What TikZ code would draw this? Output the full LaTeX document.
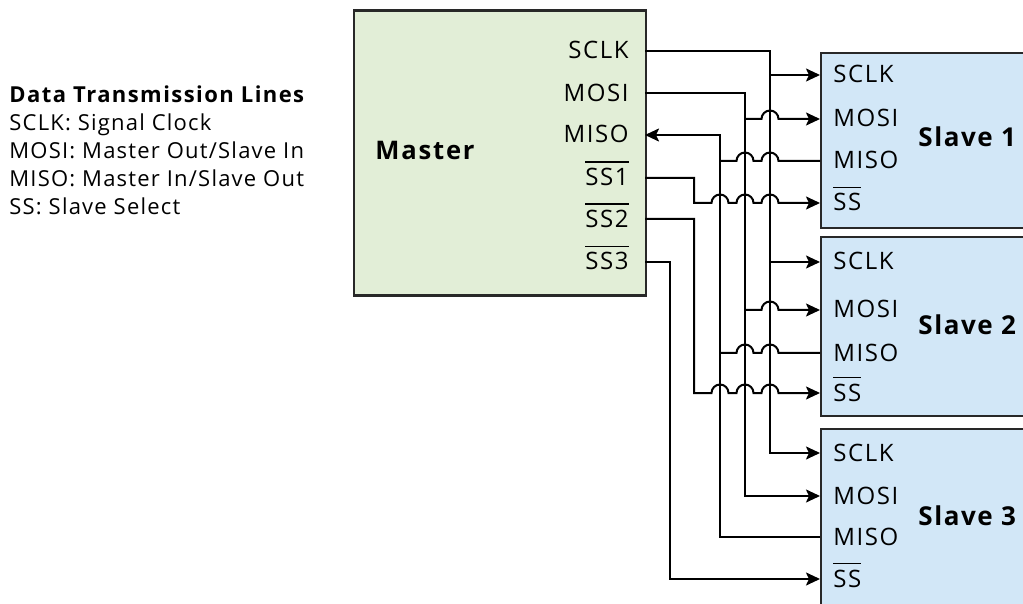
\documentclass[tikz,border=0pt]{standalone}
\usepackage{fontspec}
\setmainfont{Open Sans}
\usetikzlibrary{arrows.meta,calc}
\definecolor{mfill}{RGB}{226,238,215}
\definecolor{sfill}{RGB}{210,231,247}
\definecolor{edgec}{RGB}{40,40,40}
\newcommand\ovl[1]{\leavevmode\vbox{\hrule height 0.9pt\kern 2.6pt\hbox{#1}}}
\begin{document}
\begin{tikzpicture}[x=0.5pt,y=0.5pt,
  wire/.style={line width=1pt,draw=black},
  arr/.style={-{Stealth[length=7pt,width=6.5pt,inset=1.5pt]}},
  mbox/.style={draw=edgec,line width=1.2pt,fill=mfill,anchor=north west,inner sep=0pt},
  sbox/.style={draw=edgec,line width=1.2pt,fill=sfill,anchor=north west,inner sep=0pt},
  pinfont/.style={font=\fontsize{12}{14}\selectfont\addfontfeature{LetterSpace=6.5}},
  pinR/.style={pinfont,anchor=base east,inner sep=0pt},
  pinL/.style={pinfont,anchor=base west,inner sep=0pt},
  mlabel/.style={font=\bfseries\fontsize{12.8}{15}\selectfont\addfontfeature{LetterSpace=7},anchor=base west,inner sep=0pt},
  slabel/.style={font=\bfseries\fontsize{13}{15}\selectfont\addfontfeature{LetterSpace=6},anchor=base west,inner sep=0pt},
  legtitle/.style={font=\bfseries\fontsize{11}{13}\selectfont\addfontfeature{LetterSpace=6.5},anchor=base west,inner sep=0pt},
  legtext/.style={font=\fontsize{11}{13}\selectfont\addfontfeature{LetterSpace=5.5},anchor=base west,inner sep=0pt}]
\path[use as bounding box,clip] (0,0) rectangle (1023,-604);

% legend
\node[legtitle] (lt) at (9,-102.5) {Data Transmission Lines};
\node[legtext] (l1) at (9,-130.5) {SCLK: Signal Clock};
\node[legtext] (l2) at (9,-159) {MOSI: Master Out/Slave In};
\node[legtext] (l3) at (9,-187) {MISO: Master In/Slave Out};
\node[legtext] (l4) at (9,-214.5) {SS: Slave Select};

% boxes
\node[mbox,minimum width=146pt,minimum height=142.5pt] (master) at (353,-9.5) {};
\node[sbox,minimum width=115pt,minimum height=87.5pt] (s1) at (820,-52) {};
\node[sbox,minimum width=115pt,minimum height=89.5pt] (s2) at (820,-236) {};
\node[sbox,minimum width=115pt,minimum height=100pt] (s3) at (820,-428) {};

\node[mlabel] (mlab) at (375,-160) {Master};
\node[slabel] (s1lab) at (918,-147) {Slave 1};
\node[slabel] (s2lab) at (918,-335) {Slave 2};
\node[slabel] (s3lab) at (918,-525) {Slave 3};

% master pins
\coordinate (m-sclk) at (645,-51.5);
\coordinate (m-mosi) at (645,-93);
\coordinate (m-miso) at (645,-135);
\coordinate (m-ss1) at (645,-178);
\coordinate (m-ss2) at (645,-219);
\coordinate (m-ss3) at (645,-262);
\node[pinR] (ml1) at (629,-59) {SCLK};
\node[pinR] (ml2) at (629,-101.5) {MOSI};
\node[pinR] (ml3) at (629,-143) {MISO};
\node[pinR] (ml4) at (629,-185.5) {\ovl{SS1}};
\node[pinR] (ml5) at (629,-227.5) {\ovl{SS2}};
\node[pinR] (ml6) at (629,-270) {\ovl{SS3}};

% slave pins
\foreach \s/\a/\b/\c/\d in {1/75/119/161/203, 2/262/310/353/393, 3/453/496/537/579}{
  \coordinate (s\s-sclk) at (820,-\a);
  \coordinate (s\s-mosi) at (820,-\b);
  \coordinate (s\s-miso) at (820,-\c);
  \coordinate (s\s-ss) at (820,-\d);
  \node[pinL] (s\s l1) at (833,-\a-8) {SCLK};
  \node[pinL] (s\s l2) at (833,-\b-8) {MOSI};
  \node[pinL] (s\s l3) at (833,-\c-8) {MISO};
  \node[pinL] (s\s l4) at (833,-\d-8) {\ovl{SS}};
}

% bus x positions
\coordinate (xs) at (770,0);
\coordinate (xmo) at (745,0);
\coordinate (xmi) at (720,0);
\coordinate (xss) at (694,0);
\coordinate (x3) at (670,0);

\def\r{4.25pt}
% trunks
\draw[wire,arr] (m-sclk) -| (xs |- s3-sclk) -- (s3-sclk);
\draw[wire,arr] (m-mosi) -| (xmo |- s3-mosi) -- (s3-mosi);
\draw[wire,arr] (s3-miso) -| (xmi |- m-miso) -- (m-miso);
\draw[wire,arr] (m-ss3) -| (x3 |- s3-ss) -- (s3-ss);

\foreach \s in {1,2}{
  \draw[wire,arr] (xs |- s\s-sclk) -- (s\s-sclk);
  \draw[wire,arr] (xmo |- s\s-mosi) -- ($(xs |- s\s-mosi)+(-8.5,0)$)
     arc[start angle=180,end angle=0,radius=\r] -- (s\s-mosi);
  \draw[wire] (s\s-miso) -- ($(xs |- s\s-miso)+(8.5,0)$)
     arc[start angle=0,end angle=180,radius=\r] -- ($(xmo |- s\s-miso)+(8.5,0)$)
     arc[start angle=0,end angle=180,radius=\r] -- (xmi |- s\s-miso);
}
\draw[wire,arr] (m-ss1) -| (xss |- s1-ss) -- ($(xmi |- s1-ss)+(-8.5,0)$)
   arc[start angle=180,end angle=0,radius=\r] -- ($(xmo |- s1-ss)+(-8.5,0)$)
   arc[start angle=180,end angle=0,radius=\r] -- ($(xs |- s1-ss)+(-8.5,0)$)
   arc[start angle=180,end angle=0,radius=\r] -- (s1-ss);
\draw[wire,arr] (m-ss2) -| (xss |- s2-ss) -- ($(xmi |- s2-ss)+(-8.5,0)$)
   arc[start angle=180,end angle=0,radius=\r] -- ($(xmo |- s2-ss)+(-8.5,0)$)
   arc[start angle=180,end angle=0,radius=\r] -- ($(xs |- s2-ss)+(-8.5,0)$)
   arc[start angle=180,end angle=0,radius=\r] -- (s2-ss);
\end{tikzpicture}
\end{document}
